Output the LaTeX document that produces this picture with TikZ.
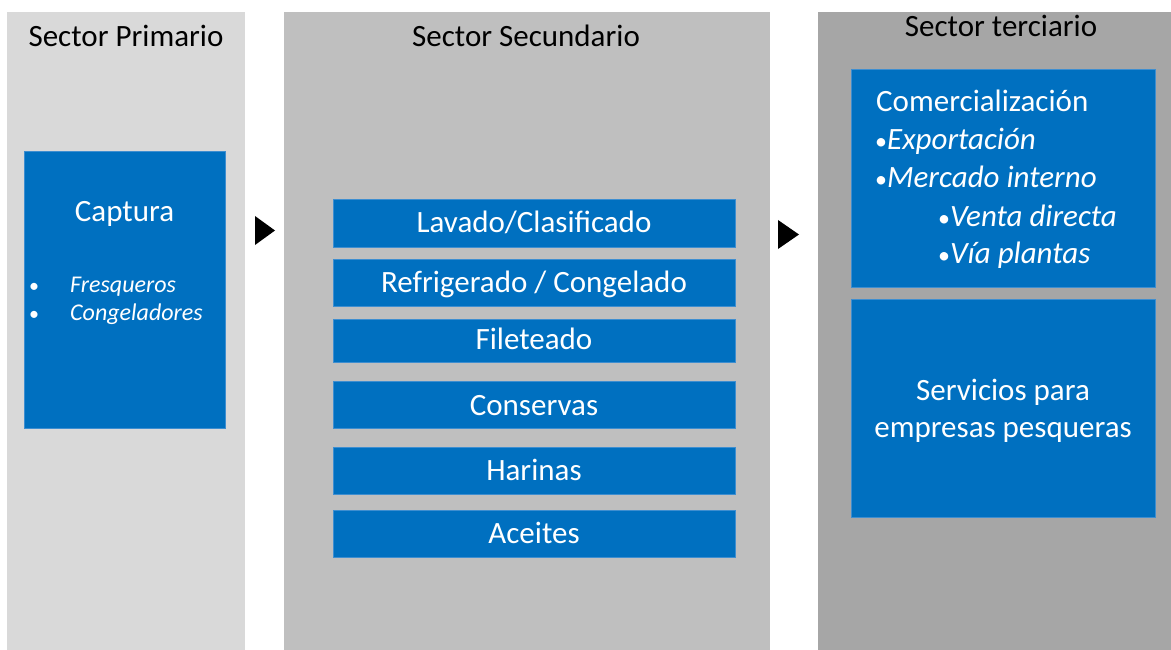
\documentclass[tikz,border=0pt]{standalone}
\usepackage{fontspec}
\setmainfont{Carlito}
\definecolor{pA}{HTML}{D9D9D9}
\definecolor{pB}{HTML}{BFBFBF}
\definecolor{pC}{HTML}{A6A6A6}
\definecolor{blu}{HTML}{0070C0}
\definecolor{bluedge}{HTML}{3E8ED0}
\newcommand{\smbul}{{\fontsize{24}{24}\selectfont\upshape •}}
\begin{document}
\begin{tikzpicture}[x=1pt,y=-1pt,
  panel/.style={draw=none, inner sep=0pt, outer sep=0pt},
  bbox/.style={fill=blu, draw=bluedge, line width=0.7pt, inner sep=0pt, outer sep=0pt},
  title/.style={anchor=base, inner sep=0pt, text=black, font=\fontsize{31}{36}\selectfont},
  lbl/.style={anchor=base, inner sep=0pt, text=white, font=\fontsize{31}{36}\selectfont},
  lblL/.style={anchor=base west, inner sep=0pt, text=white, font=\fontsize{31}{36}\selectfont},
  itl/.style={anchor=base west, inner sep=0pt, text=white, font=\fontsize{31}{36}\selectfont\itshape},
  sml/.style={anchor=base west, inner sep=0pt, text=white, font=\fontsize{24}{28}\selectfont\itshape},
  tri/.style={fill=black}
]
\useasboundingbox (0,0) rectangle (1171,650);
\fill[white] (0,0) rectangle (1171,650);
% panels
\node[panel, fill=pA, minimum width=238pt, minimum height=638pt] (p1) at (126,331) {};
\node[panel, fill=pB, minimum width=486pt, minimum height=638pt] (p2) at (527,331) {};
\node[panel, fill=pC, minimum width=353pt, minimum height=638pt] (p3) at (994.5,331) {};
% titles
\node[title] (t1) at (126,47) {Sector Primario};
\node[title] (t2) at (526,47) {Sector Secundario};
\node[title] (t3) at (1001,37) {Sector terciario};
% arrows
\coordinate (a1) at (255,216);
\coordinate (a2) at (778,220);
\fill[tri] (a1) -- ++(0,29) -- ++(20,-14.5) -- cycle;
\fill[tri] (a2) -- ++(0,29) -- ++(21,-14.5) -- cycle;
% primary box
\node[bbox, minimum width=201pt, minimum height=277pt] (cap) at (124.5,289.5) {};
\node[lbl] (capt) at (124.5,222) {Captura};
\node[sml, anchor=base] (b1) at (34,292) {\upshape\fontsize{20}{20}\selectfont •};
\node[sml] (f1) at (70,292) {Fresqueros};
\node[sml, anchor=base] (b2) at (34,320) {\upshape\fontsize{20}{20}\selectfont •};
\node[sml] (f2) at (70,320) {Congeladores};
% secondary boxes
\node[bbox, minimum width=402pt, minimum height=48pt] (s1) at (534,223) {};
\node[bbox, minimum width=402pt, minimum height=47pt] (s2) at (534,282.5) {};
\node[bbox, minimum width=402pt, minimum height=43pt] (s3) at (534,340.5) {};
\node[bbox, minimum width=402pt, minimum height=47pt] (s4) at (534,404.5) {};
\node[bbox, minimum width=402pt, minimum height=47pt] (s5) at (534,470.5) {};
\node[bbox, minimum width=402pt, minimum height=47pt] (s6) at (534,533.5) {};
\node[lbl] (st1) at (534,233) {Lavado/Clasificado};
\node[lbl] (st2) at (534,292) {Refrigerado / Congelado};
\node[lbl] (st3) at (534,349) {Fileteado};
\node[lbl] (st4) at (534,415) {Conservas};
\node[lbl] (st5) at (534,480) {Harinas};
\node[lbl] (st6) at (534,543) {Aceites};
% tertiary boxes
\node[bbox, minimum width=304pt, minimum height=218pt] (c1) at (1003,178) {};
\node[bbox, minimum width=304pt, minimum height=218pt] (c2) at (1003,408) {};
\node[lblL] (ct0) at (876,112) {Comercialización};
\node[itl] (ct1) at (875,150) {\smbul Exportación};
\node[itl] (ct2) at (875,188) {\smbul Mercado interno};
\node[itl] (ct3) at (938,226) {\smbul Venta directa};
\node[itl] (ct4) at (938,263) {\smbul Vía plantas};
\node[lbl] (sv1) at (1003,400) {Servicios para};
\node[lbl] (sv2) at (1003,437) {empresas pesqueras};
\end{tikzpicture}
\end{document}
